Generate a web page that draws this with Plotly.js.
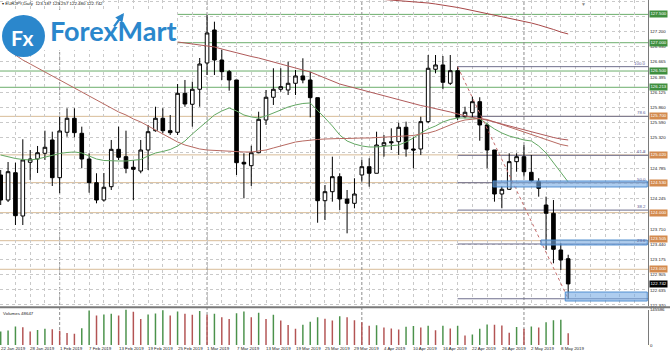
<!DOCTYPE html>
<html><head><meta charset="utf-8">
<script src="https://cdn.plot.ly/plotly-3.0.1.min.js"></script>
<style>html,body{margin:0;padding:0;background:#fff;}#chart{width:670px;height:356px;}</style>
</head><body><div id="chart"></div>
<script>
const dates=['2019-01-22','2019-01-23','2019-01-24','2019-01-25','2019-01-28','2019-01-29','2019-01-30','2019-01-31','2019-02-01','2019-02-04','2019-02-05','2019-02-06','2019-02-07','2019-02-08','2019-02-11','2019-02-12','2019-02-13','2019-02-14','2019-02-15','2019-02-18','2019-02-19','2019-02-20','2019-02-21','2019-02-22','2019-02-25','2019-02-26','2019-02-27','2019-02-28','2019-03-01','2019-03-04','2019-03-05','2019-03-06','2019-03-07','2019-03-08','2019-03-11','2019-03-12','2019-03-13','2019-03-14','2019-03-15','2019-03-18','2019-03-19','2019-03-20','2019-03-21','2019-03-22','2019-03-25','2019-03-26','2019-03-27','2019-03-28','2019-03-29','2019-04-01','2019-04-02','2019-04-03','2019-04-04','2019-04-05','2019-04-08','2019-04-09','2019-04-10','2019-04-11','2019-04-12','2019-04-15','2019-04-16','2019-04-17','2019-04-18','2019-04-19','2019-04-22','2019-04-23','2019-04-24','2019-04-25','2019-04-26','2019-04-29','2019-04-30','2019-05-01','2019-05-02','2019-05-03','2019-05-06','2019-05-07','2019-05-08','2019-05-09'];
const open=[124.665,124.223,124.705,123.941,124.889,124.947,125.048,125.283,124.617,125.419,125.666,125.401,124.947,124.529,124.223,124.458,125.118,124.988,124.801,124.735,125.106,125.447,125.666,125.447,125.419,126.107,125.913,126.178,126.642,127.225,126.695,126.489,126.342,124.889,124.829,125.058,125.636,126.037,126.178,126.165,126.284,126.413,126.342,126.030,124.211,124.370,124.635,124.241,124.165,124.665,124.811,124.695,125.182,125.252,125.253,125.507,125.124,125.124,125.606,126.531,126.607,126.284,126.506,125.694,125.765,125.959,125.548,125.106,124.329,124.412,124.900,124.988,124.712,124.546,124.135,123.989,123.341,123.187];
const high=[124.753,124.894,124.882,125.295,125.106,125.177,125.447,125.429,125.694,125.842,125.842,125.518,125.048,124.695,124.700,125.283,125.518,125.447,124.930,125.283,125.548,125.870,125.842,125.724,126.271,126.342,126.312,126.730,127.490,127.371,126.872,126.519,126.342,125.048,125.182,125.782,126.165,126.549,126.549,126.665,126.519,126.725,126.489,126.030,124.488,124.988,124.695,124.400,124.607,124.930,124.960,125.429,125.371,125.489,125.588,125.606,125.341,125.694,126.783,126.783,126.766,126.783,126.577,125.870,126.047,126.037,125.578,125.106,124.458,125.048,125.048,125.194,125.018,124.607,124.282,124.223,123.459,123.257];
const low=[124.135,124.188,123.782,123.782,124.577,124.700,124.930,124.471,124.342,125.341,125.330,124.783,124.352,124.165,124.194,124.400,124.930,124.695,124.223,124.695,124.753,125.429,125.401,125.371,125.371,125.870,125.518,125.870,126.430,126.430,126.342,126.153,124.665,124.253,124.471,125.048,125.548,125.901,126.135,126.077,126.077,126.284,125.683,123.822,123.870,124.194,124.047,123.635,124.077,124.546,124.458,124.695,124.988,125.106,125.018,124.988,124.783,125.018,125.578,126.460,126.178,126.254,125.636,125.666,125.683,125.270,124.783,124.194,124.077,124.400,124.723,124.635,124.546,124.282,123.341,123.106,122.988,122.480];
const close=[124.223,124.723,123.946,124.930,124.947,125.058,125.154,124.617,125.442,125.666,125.412,124.947,124.529,124.223,124.448,125.118,124.977,124.783,124.765,125.106,125.429,125.666,125.447,125.412,126.107,125.918,126.178,126.624,127.172,126.695,126.489,126.342,124.882,124.859,125.058,125.648,126.037,126.178,126.224,126.284,126.413,126.342,126.030,124.211,124.370,124.635,124.241,124.165,124.329,124.811,124.695,125.194,125.235,125.235,125.507,125.124,125.106,125.606,126.549,126.607,126.301,126.506,125.683,125.772,125.959,125.548,125.106,124.329,124.412,124.900,124.988,124.723,124.564,124.430,123.989,123.353,123.164,122.742];
const volume=[55000,59000,76000,73000,55000,62000,67000,65000,58000,49000,46000,69000,141000,121000,125000,128000,121000,145586,136000,107000,125000,129000,143000,121000,137000,128000,124000,139000,124000,128000,114000,107000,130000,137000,114000,132000,107000,124000,100000,82000,67000,83000,95000,114000,108000,100000,118000,114000,101000,93000,79000,81000,72000,68000,64000,75000,78000,72000,79000,61000,79000,68000,79000,39000,43000,67000,84000,83000,80000,50000,74000,67000,76000,72000,93000,101000,104000,48647];
const maFast=[125.018,124.983,124.956,124.938,124.930,124.947,124.983,125.018,125.044,125.062,125.071,125.053,125.000,124.947,124.921,124.912,124.912,124.912,124.921,124.938,125.000,125.053,125.080,125.115,125.177,125.265,125.389,125.495,125.618,125.724,125.795,125.848,125.795,125.724,125.689,125.671,125.706,125.759,125.812,125.865,125.901,125.927,125.936,125.812,125.671,125.530,125.371,125.265,125.212,125.177,125.159,125.159,125.168,125.186,125.194,125.247,125.318,125.406,125.477,125.530,125.601,125.645,125.671,125.671,125.671,125.654,125.565,125.477,125.406,125.353,125.318,125.283,125.265,125.177,125.053,124.877,124.718,124.541];
const maMid=[126.942,126.872,126.783,126.695,126.625,126.554,126.483,126.413,126.342,126.271,126.201,126.130,126.060,125.989,125.918,125.848,125.777,125.724,125.654,125.601,125.530,125.459,125.389,125.318,125.247,125.194,125.159,125.124,125.106,125.097,125.089,125.080,125.071,125.071,125.071,125.089,125.106,125.142,125.177,125.212,125.247,125.265,125.283,125.292,125.300,125.309,125.309,125.309,125.318,125.318,125.318,125.327,125.336,125.336,125.353,125.353,125.362,125.389,125.406,125.442,125.495,125.548,125.601,125.636,125.654,125.662,125.645,125.601,125.556,125.512,125.468,125.424,125.380,125.336,125.292,125.247,125.203,125.177];
const maSlow=[null,null,null,null,null,null,null,null,null,null,null,null,null,null,null,null,null,null,null,null,null,null,null,null,127.013,126.995,126.978,126.960,126.942,126.925,126.889,126.854,126.819,126.783,126.757,126.730,126.695,126.660,126.625,126.589,126.554,126.519,126.483,126.430,126.377,126.324,126.271,126.236,126.201,126.165,126.130,126.095,126.060,126.024,125.989,125.954,125.918,125.892,125.865,125.839,125.812,125.777,125.742,125.706,125.680,125.662,125.636,125.601,125.565,125.530,125.495,125.459,125.424,125.389,125.353,125.327,125.300,125.283];
const maLong=[null,null,null,null,null,null,null,null,null,null,null,null,null,null,null,null,null,null,null,null,null,null,null,null,null,null,null,null,null,null,null,null,null,null,null,null,null,null,null,null,null,null,null,null,null,null,null,null,null,null,null,null,127.763,127.754,127.737,127.728,127.719,127.710,127.701,127.684,127.666,127.648,127.622,127.596,127.569,127.543,127.516,127.490,127.463,127.437,127.410,127.384,127.348,127.313,127.278,127.234,127.189,127.154];
const labelDates=['2019-01-22','2019-01-28','2019-02-01','2019-02-07','2019-02-13','2019-02-19','2019-02-25','2019-03-01','2019-03-07','2019-03-13','2019-03-19','2019-03-25','2019-03-29','2019-04-04','2019-04-10','2019-04-16','2019-04-22','2019-04-26','2019-05-02','2019-05-08'];
const monthStarts=['2019-02-01','2019-03-01','2019-04-01','2019-05-01'];
const priceTicks=[127.735,127.465,127.200,126.930,126.665,126.395,126.125,125.860,125.590,125.320,125.055,124.785,124.515,124.245,123.980,123.710,123.440,123.175,122.905,122.635,122.370];
const hiddenTicks=[127.465,125.055,124.515,123.980];
const greenLevels=[127.500,127.000,126.500,126.213];
const tanLevels=[125.700,125.020,124.530,124.000,123.505,123.000];
const fibFrom='2019-04-18', fibTo='2019-05-09';
const fibRatios=[1,0.786,0.618,0.5,0.382,0.236,0];
const zoneStart=[66.8,73.3,76.6];
const zoneLow=[124.453,123.429,122.440];
const zoneHigh=[124.559,123.517,122.599];
const volMax=145586;

const W=648,H=345;
const px=v=>v/W, py=v=>(H-v)/H;
const X0=-0.095,X1=87.83;
const idx=dates.map((d,i)=>i);
const MON=['Jan','Feb','Mar','Apr','May','Jun','Jul','Aug','Sep','Oct','Nov','Dec'];
const fmt=d=>{const p=d.split('-');return (+p[2])+' '+MON[+p[1]-1]+' '+p[0];};
const FONT='Liberation Sans, Arial, sans-serif';
const fs=4.4;

const volColors=volume.map((v,i)=>(i===0||v>volume[i-1])?'#4b924b':'#b35454');

const traces=[
 {type:'candlestick',x:idx,open:open,high:high,low:low,close:close,xaxis:'x',yaxis:'y',
  increasing:{line:{color:'#000',width:1},fillcolor:'#fff'},
  decreasing:{line:{color:'#000',width:1},fillcolor:'#000'},whiskerwidth:0,hoverinfo:'none'},
 {type:'scatter',mode:'lines',x:idx,y:maFast,line:{color:'#63a863',width:1},xaxis:'x',yaxis:'y',hoverinfo:'none'},
 {type:'scatter',mode:'lines',x:idx,y:maMid,line:{color:'#b86a62',width:1},xaxis:'x',yaxis:'y',hoverinfo:'none'},
 {type:'scatter',mode:'lines',x:idx,y:maSlow,line:{color:'#b05a5a',width:1},xaxis:'x',yaxis:'y',hoverinfo:'none'},
 {type:'scatter',mode:'lines',x:idx,y:maLong,line:{color:'#a84848',width:1},xaxis:'x',yaxis:'y',hoverinfo:'none'},
 {type:'bar',x:idx,y:volume,marker:{color:volColors},width:0.2,xaxis:'x2',yaxis:'y2',hoverinfo:'none'}
];

const shapes=[];
greenLevels.forEach(l=>shapes.push({type:'line',xref:'paper',x0:0,x1:1,yref:'y',y0:l,y1:l,line:{color:'#6cae6c',width:1},layer:'between'}));
tanLevels.forEach(l=>shapes.push({type:'line',xref:'paper',x0:0,x1:1,yref:'y',y0:l,y1:l,line:{color:'#d8bc98',width:1},layer:'between'}));
const fi=dates.indexOf(fibFrom), fj=dates.indexOf(fibTo);
const fHigh=high[fi], fLow=low[fj];
fibRatios.forEach(r=>{const l=fLow+r*(fHigh-fLow);shapes.push({type:'line',xref:'x',x0:fi,x1:X1,yref:'y',y0:l,y1:l,line:{color:'#6e6e8c',width:1},layer:'between'});});
shapes.push({type:'line',xref:'x',x0:fi,x1:fj,yref:'y',y0:fHigh,y1:fLow,line:{color:'#c46a6a',width:1,dash:'dot'}});
zoneStart.forEach((s,k)=>shapes.push({type:'rect',xref:'x',x0:s,x1:X1-0.1,yref:'y',y0:zoneLow[k],y1:zoneHigh[k],fillcolor:'rgba(120,172,228,0.6)',line:{color:'rgba(70,135,205,0.9)',width:1}}));
monthStarts.forEach(d=>{const i=dates.indexOf(d);shapes.push({type:'line',xref:'x',x0:i,x1:i,yref:'paper',y0:0,y1:1,line:{color:'#8c8c8c',width:1,dash:'3px,2px'},layer:'between'});});
shapes.push({type:'line',xref:'paper',x0:0,x1:670/W,yref:'paper',y0:py(307.3),y1:py(307.3),line:{color:'#7a7a7a',width:2}});
shapes.push({type:'rect',xref:'paper',yref:'paper',x0:0,x1:px(177),y0:py(50),y1:py(10),fillcolor:'#fff',line:{width:0},layer:'above'});
shapes.push({type:'circle',xref:'paper',yref:'paper',x0:px(2),x1:px(45),y0:py(57),y1:py(15),fillcolor:'#2b87cc',line:{width:0},layer:'above'});

const ann=[];
labelDates.forEach(d=>ann.push({xref:'x2',x:dates.indexOf(d),yref:'paper',y:0,xanchor:'left',yanchor:'top',text:fmt(d),showarrow:false,font:{size:fs,color:'#222',family:FONT},xshift:-1,borderpad:0}));
greenLevels.forEach(l=>ann.push({xref:'paper',x:1,xanchor:'left',xshift:1,yref:'y',y:l,yanchor:'middle',text:l.toFixed(3),showarrow:false,bgcolor:'#3f8f3f',font:{size:fs,color:'#fff',family:FONT},borderpad:0.4}));
tanLevels.forEach((l,k)=>ann.push({xref:'paper',x:1,xanchor:'left',xshift:1,yref:'y',y:l,yanchor:'middle',yshift:(k===4?1.5:0),text:l.toFixed(3),showarrow:false,bgcolor:'#d38a4e',font:{size:fs,color:'#fff',family:FONT},borderpad:0.4}));
ann.push({xref:'paper',x:1,xanchor:'left',xshift:1,yref:'y',y:close[close.length-1],yanchor:'middle',text:close[close.length-1].toFixed(3),showarrow:false,bgcolor:'#000',font:{size:fs,color:'#fff',family:FONT},borderpad:0.4});
fibRatios.slice(0,6).forEach(r=>{const l=fLow+r*(fHigh-fLow);ann.push({xref:'paper',x:1,xanchor:'right',xshift:-1,yref:'y',y:l,yanchor:'bottom',text:(r*100).toFixed(1),showarrow:false,font:{size:fs,color:'#5a5a96',family:FONT},borderpad:0});});
const n=close.length-1;
ann.push({xref:'paper',x:0,y:1,yref:'paper',xanchor:'left',yanchor:'top',xshift:1,text:'▾ EURJPY,Daily  '+open[n].toFixed(3)+' '+high[n].toFixed(3)+' '+low[n].toFixed(3)+' '+close[n].toFixed(3),showarrow:false,font:{size:fs,color:'#111',family:FONT},borderpad:0});
ann.push({xref:'paper',x:0,y:py(309.5),yref:'paper',xanchor:'left',yanchor:'top',xshift:2,text:'Volumes '+volume[n],showarrow:false,font:{size:fs,color:'#222',family:FONT},borderpad:0});
ann.push({xref:'paper',x:px(583),y:1,yref:'paper',xanchor:'center',yanchor:'top',text:'▼',showarrow:false,font:{size:5,color:'#888'},borderpad:0});
ann.push({xref:'paper',yref:'paper',x:px(48),y:py(30),xanchor:'left',yanchor:'middle',text:'<b>ForexMart</b>',showarrow:false,font:{size:27,color:'#2b87cc',family:'Lato, sans-serif'}});
ann.push({xref:'paper',yref:'paper',x:px(22),y:py(37),xanchor:'center',yanchor:'middle',text:'<b>Fx</b>',showarrow:false,font:{size:21,color:'#fff',family:'Lato, sans-serif'}});
ann.push({xref:'paper',yref:'paper',x:px(124),y:py(13),text:'',showarrow:true,ax:-11,ay:15,arrowhead:2,arrowsize:0.8,arrowwidth:2.2,arrowcolor:'#2b87cc',standoff:0});

const layout={
 width:670,height:356,margin:{l:0,r:22,t:0,b:11},paper_bgcolor:'#fff',plot_bgcolor:'#fff',showlegend:false,
 xaxis:{domain:[0,1],range:[X0,X1],anchor:'y',tickvals:idx.concat([78,80,82,84,86]).filter(v=>v%2===0),showticklabels:false,ticks:'',showgrid:true,gridcolor:'#c9c9c9',griddash:'dot',gridwidth:1,zeroline:false,showline:false,rangeslider:{visible:false},fixedrange:true},
 xaxis2:{domain:[0,1],range:[X0,X1],anchor:'y2',matches:'x',showticklabels:false,ticks:'',showgrid:false,zeroline:false,showline:false,fixedrange:true},
 yaxis:{domain:[py(306),1],range:[122.352,127.754],side:'right',tickvals:priceTicks,ticktext:priceTicks.map(v=>hiddenTicks.includes(v)?'':v.toFixed(3)),tickfont:{size:fs,color:'#222',family:FONT},ticks:'',showgrid:true,gridcolor:'#c9c9c9',griddash:'dot',gridwidth:1,zeroline:false,showline:true,linecolor:'#7a7a7a',linewidth:1,fixedrange:true},
 yaxis2:{domain:[0,py(309.5)],range:[0,volMax],side:'right',tickvals:[0,volMax],ticktext:['0',String(volMax)],tickfont:{size:fs,color:'#222',family:FONT},ticks:'',showgrid:false,zeroline:false,showline:true,linecolor:'#7a7a7a',linewidth:1,fixedrange:true},
 shapes:shapes,annotations:ann
};
Plotly.newPlot('chart',traces,layout,{displayModeBar:false,staticPlot:true});
</script></body></html>
